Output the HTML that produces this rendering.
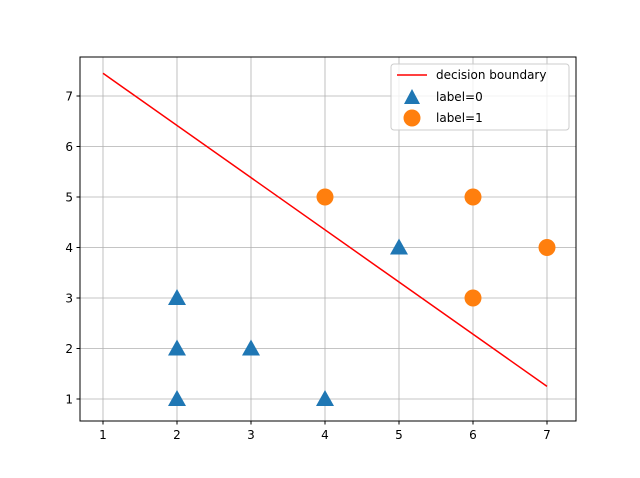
<!DOCTYPE html>
<html><head><meta charset="utf-8"><style>
body{margin:0;background:#fff;font-family:"Liberation Sans","DejaVu Sans",sans-serif}
svg text{font-family:"DejaVu Sans","Liberation Sans",sans-serif;font-size:12px;fill:#000}
</style></head><body>
<svg id="chart" width="640" height="473" xmlns="http://www.w3.org/2000/svg">
<rect width="640" height="473" fill="#fff"/>
<g id="grid"></g>
<g id="marks"></g>
<rect x="80" y="57" width="496" height="364" fill="none" stroke="#000" stroke-width="1"/>
<g id="ticks"></g>
<g>
<rect x="391" y="64" width="178" height="66" rx="3" fill="#fff" fill-opacity="0.8" stroke="#ccc"/>
<line x1="397" y1="75" x2="427" y2="75" stroke="red" stroke-width="1.5"/>
<text x="436" y="79">decision boundary</text>
<polygon points="412,89 420,104 404,104" fill="#1f77b4"/>
<text x="436" y="101">label=0</text>
<circle cx="412" cy="118" r="8.5" fill="#ff7f0e"/>
<text x="436" y="122">label=1</text>
</g>
</svg>
<script>
const class0X=[2,2,2,3,4,5];
const class0Y=[1,2,3,2,1,4];
const class1X=[4,6,6,7];
const class1Y=[5,5,3,4];
const lineX=[1,7];
const lineY=[7.45,1.25];
const xTicks=[1,2,3,4,5,6,7];
const yTicks=[1,2,3,4,5,6,7];
const sx=v=>103+(v-1)*74;
const sy=v=>399-(v-1)*50.5;
const NS="http://www.w3.org/2000/svg";
function mk(t,a,p){const e=document.createElementNS(NS,t);for(const k in a)e.setAttribute(k,a[k]);p.appendChild(e);return e;}
const grid=document.getElementById('grid'),ticks=document.getElementById('ticks'),marks=document.getElementById('marks');
xTicks.forEach(v=>{
 const g=mk('line',{x1:sx(v),x2:sx(v),y1:57,y2:421,stroke:'#b0b0b0','stroke-width':0.8},grid);
 
 
 const t=mk('line',{x1:sx(v),x2:sx(v),y1:421,y2:424.5,stroke:'#000'},ticks);
 
 
 const l=mk('text',{x:sx(v),y:439,'text-anchor':'middle'},ticks);l.textContent=v;
 
 
});
yTicks.forEach(v=>{
 const g=mk('line',{x1:80,x2:576,y1:sy(v),y2:sy(v),stroke:'#b0b0b0','stroke-width':0.8},grid);
 
 
 const t=mk('line',{x1:76.5,x2:80,y1:sy(v),y2:sy(v),stroke:'#000'},ticks);
 
 
 const l=mk('text',{x:73,y:sy(v)+4.5,'text-anchor':'end'},ticks);l.textContent=v;
 
 
});
const ln=mk('line',{x1:sx(lineX[0]),y1:sy(lineY[0]),x2:sx(lineX[1]),y2:sy(lineY[1]),stroke:'red','stroke-width':1.5},marks);


class0X.forEach((x,i)=>{
 const cx=sx(x),cy=sy(class0Y[i]);
 const p=mk('polygon',{points:`${cx},${cy-9} ${cx+9},${cy+7} ${cx-9},${cy+7}`,fill:'#1f77b4'},marks);
 
 
});
class1X.forEach((x,i)=>{
 const c=mk('circle',{cx:sx(x),cy:sy(class1Y[i]),r:8.5,fill:'#ff7f0e'},marks);
 
 
});
</script>
</body></html>
